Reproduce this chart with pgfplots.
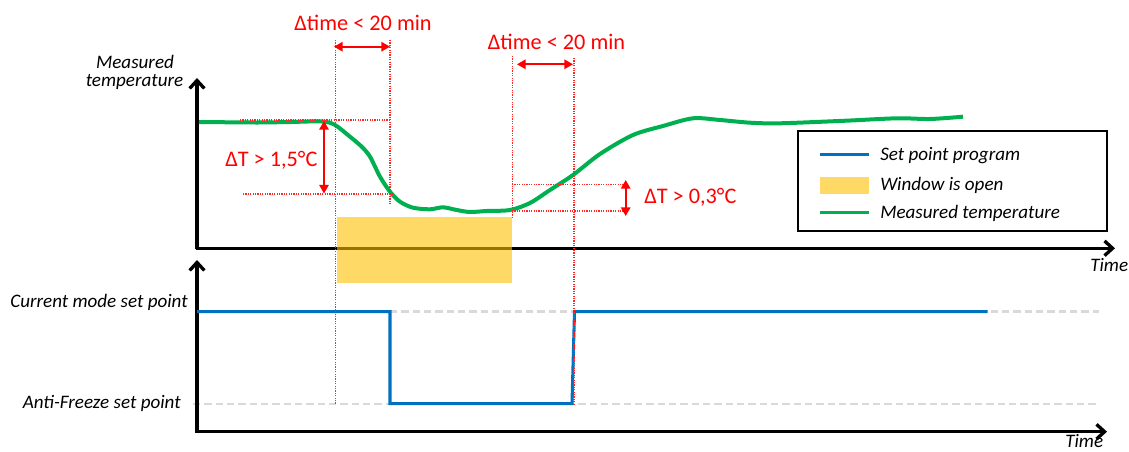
\documentclass[border=0pt]{standalone}
\usepackage{pgfplots}
\pgfplotsset{compat=1.18}
\usepackage{fontspec}
\setmainfont{Carlito}
\usetikzlibrary{arrows.meta}
\definecolor{tgreen}{HTML}{00B050}
\definecolor{tblue}{HTML}{0070C0}
\definecolor{tyellow}{HTML}{FFC000}
\definecolor{tgray}{HTML}{D9D9D9}
\newcommand\blk{\fontsize{14.3}{17}\selectfont\itshape}
\newcommand\rd{\fontsize{16.7}{20}\selectfont}
\begin{document}
\begin{tikzpicture}
\useasboundingbox (0,0) rectangle (846.75pt,339pt);
\begin{axis}[at={(0,0)}, anchor=south west, width=846.75pt, height=339pt,
  scale only axis, xmin=0, xmax=1129, ymin=0, ymax=452, y dir=reverse,
  hide axis, clip=false]
% reference lines (gray dashed)
\addplot[tgray, line width=2.2pt, dash pattern=on 5.5pt off 3pt] coordinates {(390,311.7) (1099,311.7)};
\addplot[tgray, line width=2.2pt, dash pattern=on 5.5pt off 3pt] coordinates {(193,404) (1096,404)};
% axes
\draw[black, line width=2.5pt, -{Straight Barb[length=6pt,width=11pt]}] (axis cs:197,249.5) -- (axis cs:197,78);
\draw[black, line width=2.5pt, -{Straight Barb[length=6pt,width=11pt]}] (axis cs:196,248.3) -- (axis cs:1115,248.3);
\draw[black, line width=2.5pt, -{Straight Barb[length=6pt,width=11pt]}] (axis cs:197,433) -- (axis cs:197,260);
\draw[black, line width=2.5pt, -{Straight Barb[length=6pt,width=11pt]}] (axis cs:196,431.7) -- (axis cs:1107,431.7);
% set point program
\addplot[tblue, line width=2.3pt] coordinates {(197,311.7) (390,311.7) (390,403.7) (572,403.7) (574.5,311.7) (987.7,311.7)};
% window open
\addplot[fill=tyellow, fill opacity=0.6, draw=none] coordinates {(336.7,217.3) (512.3,217.3) (512.3,283) (336.7,283)} -- cycle;
% measured temperature
\addplot[tgreen, line width=3pt, smooth, tension=0.5] coordinates {
(199,122) (230,122.3) (260,122.5) (290,122) (322,121.5) (335,125) (350,136.7) (361.7,146.7) (370,156.7)
(380,176.7) (390,191.7) (400,201.7) (413,207.7) (430,209.3) (443,207.3) (456.7,210) (470,212) (486.7,211)
(510,210) (530,203) (550,190) (573,175) (600,154) (633,135) (663,126) (693,118.3) (720,120) (750,122.7)
(780,123.3) (846,120.7) (897,118.3) (930,119) (963,116.7)};
% red dotted guides
\tikzset{guide/.style={red!85!white, line width=0.9pt, dash pattern=on 0.9pt off 0.9pt}}
\draw[guide] (axis cs:335.5,40) -- (axis cs:335.5,404);
\draw[guide] (axis cs:390,40) -- (axis cs:390,205);
\draw[guide] (axis cs:240,120) -- (axis cs:390,120);
\draw[guide] (axis cs:243,194) -- (axis cs:392,194);
\draw[guide] (axis cs:512.5,56) -- (axis cs:512.5,217);
\draw[guide] (axis cs:574,58) -- (axis cs:574,404);
\draw[guide] (axis cs:512,184.7) -- (axis cs:625,184.7);
\draw[guide] (axis cs:512,211) -- (axis cs:625,211);
% red arrows
\draw[red, line width=1.5pt, {Triangle[length=6.5pt,width=7pt]}-{Triangle[length=6.5pt,width=7pt]}] (axis cs:334,46.7) -- (axis cs:390,46.7);
\draw[red, line width=1.5pt, {Triangle[length=6.5pt,width=7pt]}-{Triangle[length=6.5pt,width=7pt]}] (axis cs:517,64.3) -- (axis cs:573,64.3);
\draw[red, line width=1.5pt, {Triangle[length=6.5pt,width=7pt]}-{Triangle[length=6.5pt,width=7pt]}] (axis cs:324,121) -- (axis cs:324,193.5);
\draw[red, line width=1.5pt, {Triangle[length=6.5pt,width=7pt]}-{Triangle[length=6.5pt,width=7pt]}] (axis cs:625.7,180) -- (axis cs:625.7,216);
% red labels
\node[red, font=\rd, anchor=base, inner sep=0] at (axis cs:363,31) {Δtime < 20 min};
\node[red, font=\rd, anchor=base, inner sep=0] at (axis cs:556.5,50) {Δtime < 20 min};
\node[red, font=\rd, anchor=base west, inner sep=0] at (axis cs:225,167) {ΔT > 1,5°C};
\node[red, font=\rd, anchor=base west, inner sep=0] at (axis cs:644,204) {ΔT > 0,3°C};
% black labels
\node[font=\blk, anchor=base, inner sep=0] at (axis cs:135,68.3) {Measured};
\node[font=\blk, anchor=base, inner sep=0] at (axis cs:134.5,87) {temperature};
\node[font=\blk, anchor=base west, inner sep=0] at (axis cs:1090,271.7) {Time};
\node[font=\blk, anchor=base west, inner sep=0] at (axis cs:1065,447) {Time};
\node[font=\blk, anchor=base east, inner sep=0] at (axis cs:188,308) {Current mode set point};
\node[font=\blk, anchor=base east, inner sep=0] at (axis cs:181,409) {Anti-Freeze set point};
% legend
\draw[black, line width=1.5pt, fill=white] (axis cs:798,131) rectangle (axis cs:1107,231);
\draw[tblue, line width=2.3pt] (axis cs:820,154.3) -- (axis cs:869,154.3);
\fill[tyellow, opacity=0.6] (axis cs:820,177.3) rectangle (axis cs:869,194);
\draw[tgreen, line width=2.3pt] (axis cs:820,212.3) -- (axis cs:869,212.3);
\node[font=\blk, anchor=base west, inner sep=0] at (axis cs:880,161) {Set point program};
\node[font=\blk, anchor=base west, inner sep=0] at (axis cs:880,191) {Window is open};
\node[font=\blk, anchor=base west, inner sep=0] at (axis cs:880,219) {Measured temperature};
\end{axis}
\end{tikzpicture}
\end{document}
